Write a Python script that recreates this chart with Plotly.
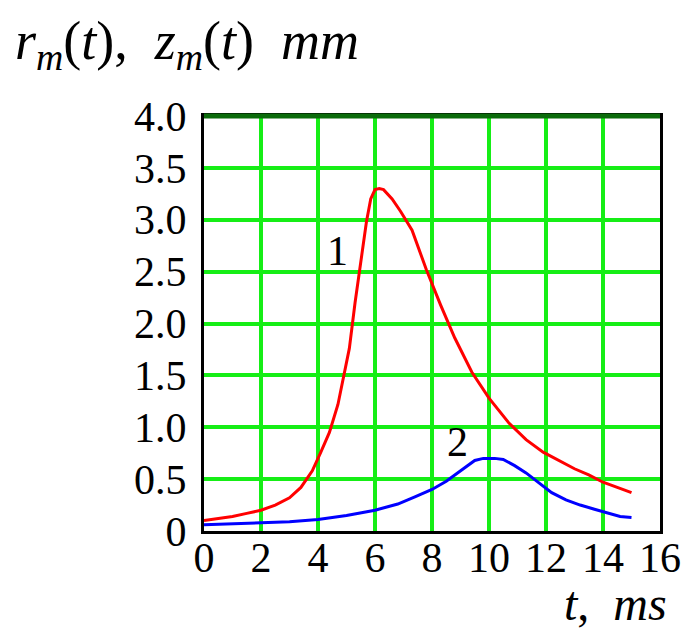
import plotly.graph_objects as go

# curve 1: r_m(t)
t_r = [0, 0.5, 1, 1.5, 2, 2.5, 3, 3.4, 3.8, 4.1, 4.4, 4.7, 4.9, 5.1, 5.3, 5.5, 5.7, 5.85,
       6.0, 6.15, 6.3, 6.6, 6.9, 7.3, 7.8, 8.3, 8.8, 9.4, 10.0, 10.7, 11.3, 11.9, 12.5,
       13.0, 13.5, 14.0, 14.5, 15.0]
r_m = [0.10, 0.12, 0.14, 0.17, 0.20, 0.25, 0.32, 0.42, 0.58, 0.76, 0.95, 1.22, 1.50, 1.76,
       2.20, 2.58, 2.98, 3.20, 3.29, 3.30, 3.29, 3.20, 3.08, 2.90, 2.52, 2.18, 1.86, 1.53,
       1.28, 1.04, 0.88, 0.76, 0.67, 0.60, 0.54, 0.47, 0.42, 0.37]

# curve 2: z_m(t)
t_z = [0, 1, 2, 3, 4, 5, 6, 6.8, 7.4, 8.0, 8.5, 9.0, 9.5, 9.8, 10.2, 10.5, 10.9, 11.3,
       11.8, 12.2, 12.7, 13.2, 13.7, 14.2, 14.6, 15.0]
z_m = [0.06, 0.07, 0.08, 0.09, 0.11, 0.15, 0.20, 0.26, 0.33, 0.40, 0.48, 0.58, 0.68, 0.70,
       0.70, 0.69, 0.63, 0.56, 0.45, 0.37, 0.30, 0.25, 0.21, 0.17, 0.14, 0.13]

x_ticks = [0, 2, 4, 6, 8, 10, 12, 14, 16]
x_labels = ["0", "2", "4", "6", "8", "10", "12", "14", "16"]
y_ticks = [0, 0.5, 1.0, 1.5, 2.0, 2.5, 3.0, 3.5, 4.0]
y_labels = ["0", "0.5", "1.0", "1.5", "2.0", "2.5", "3.0", "3.5", "4.0"]

serif = "Liberation Serif"
grid_green = "rgb(22,238,22)"

fig = go.Figure()
fig.add_trace(go.Scatter(x=t_r, y=r_m, mode="lines", line=dict(color="#ff0000", width=3)))
fig.add_trace(go.Scatter(x=t_z, y=z_m, mode="lines", line=dict(color="#0000ff", width=3)))

# curve numbers
fig.add_annotation(x=4.7, y=2.7, text="1", showarrow=False,
                   font=dict(family=serif, size=42, color="black"))
fig.add_annotation(x=8.88, y=0.86, text="2", showarrow=False,
                   font=dict(family=serif, size=42, color="black"))

# axis titles
fig.add_annotation(xref="paper", yref="paper", x=-0.419, y=1.258, xanchor="left", yanchor="top",
                   text="<i>r</i><sub><i>m</i></sub>(<i>t</i>),&nbsp;&nbsp;<i>z</i><sub><i>m</i></sub>(<i>t</i>)&nbsp;&nbsp;<i>mm</i>",
                   showarrow=False, font=dict(family=serif, size=54, color="black"))
fig.add_annotation(xref="paper", yref="paper", x=1.02, y=-0.106, xanchor="right", yanchor="top",
                   text="<i>t</i>,&nbsp;&nbsp;<i>ms</i>", showarrow=False,
                   font=dict(family=serif, size=48, color="black"))

# dark green top frame
fig.add_shape(type="line", xref="paper", yref="paper", x0=0, x1=1, y0=1, y1=1,
              line=dict(color="#0b6b0b", width=5))

fig.update_xaxes(range=[0, 16], tickvals=x_ticks, ticktext=x_labels,
                 showgrid=True, gridcolor=grid_green, gridwidth=4, automargin=False,
                 zeroline=False, showline=True, linecolor="black", linewidth=3, mirror=True,
                 ticks="", ticklabelstandoff=-12,
                 tickfont=dict(family=serif, size=42, color="black"))
fig.update_yaxes(range=[0, 4.0], tickvals=y_ticks, ticktext=y_labels,
                 showgrid=True, gridcolor=grid_green, gridwidth=4, automargin=False,
                 zeroline=False, showline=True, linecolor="black", linewidth=3, mirror=True,
                 ticks="", ticklabelstandoff=6,
                 tickfont=dict(family=serif, size=42, color="black"))

# page body adds an 8px offset, so the figure is 8px smaller and margins shifted
fig.update_layout(width=681, height=624, showlegend=False,
                  margin=dict(l=196, r=29, t=108, b=101),
                  paper_bgcolor="white", plot_bgcolor="white")

fig.write_html("out.html")
